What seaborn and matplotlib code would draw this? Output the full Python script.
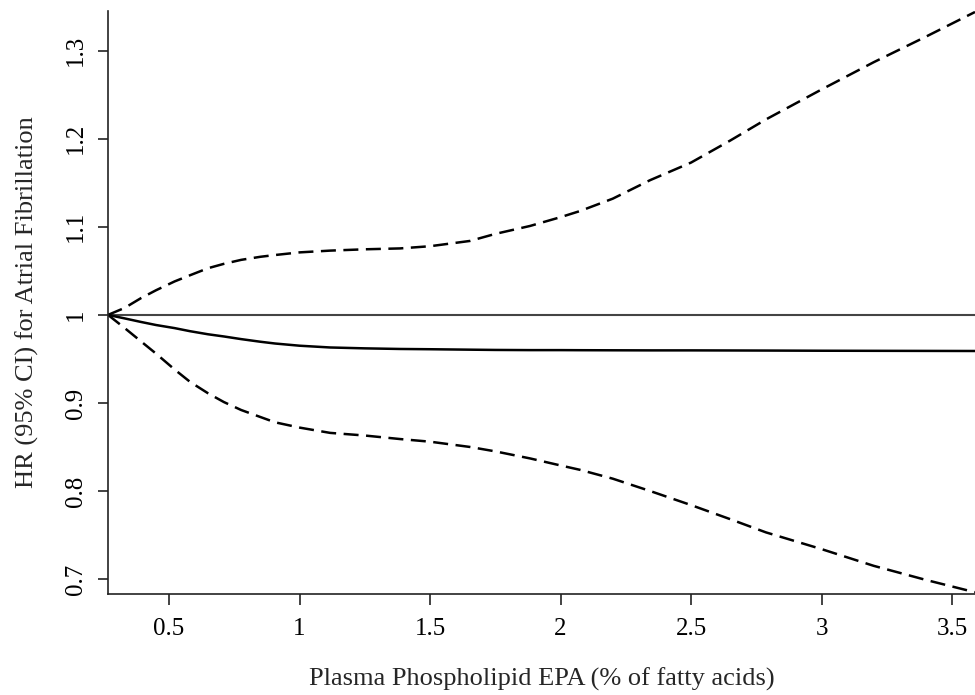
import numpy as np
import pandas as pd
import matplotlib
matplotlib.use("Agg")
import matplotlib.pyplot as plt
import seaborn as sns

# EPA level (% of fatty acids) and spline HR with 95% CI
epa = [0.266, 0.33, 0.392, 0.45, 0.521, 0.58, 0.649, 0.71, 0.776, 0.85, 0.906, 1.0,
       1.117, 1.25, 1.385, 1.5, 1.653, 1.75, 1.883, 2.0, 2.075, 2.2, 2.343, 2.5,
       2.65, 2.787, 3.0, 3.2, 3.4, 3.588]
hr = [1.0, 0.996, 0.992, 0.9885, 0.985, 0.9815, 0.978, 0.9755, 0.9725, 0.9695, 0.9675, 0.965,
      0.963, 0.962, 0.9613, 0.961, 0.9605, 0.9602, 0.96, 0.96, 0.9599, 0.9598, 0.9597, 0.9597,
      0.9596, 0.9595, 0.9593, 0.9592, 0.9591, 0.959]
ci_upper = [1.0, 1.008, 1.019, 1.028, 1.038, 1.045, 1.053, 1.058, 1.0625, 1.066, 1.068, 1.071,
            1.073, 1.0745, 1.0755, 1.078, 1.084, 1.092, 1.101, 1.111, 1.118, 1.132, 1.153, 1.173,
            1.198, 1.222, 1.256, 1.287, 1.316, 1.344]
ci_lower = [1.0, 0.985, 0.970, 0.956, 0.938, 0.924, 0.911, 0.901, 0.892, 0.884, 0.878, 0.872,
            0.866, 0.863, 0.859, 0.856, 0.850, 0.845, 0.837, 0.829, 0.824, 0.814, 0.800, 0.784,
            0.768, 0.753, 0.734, 0.715, 0.699, 0.685]

x_ticks = [0.5, 1, 1.5, 2, 2.5, 3, 3.5]
y_ticks = [0.7, 0.8, 0.9, 1.0, 1.1, 1.2, 1.3]
x_tick_labels = ["0.5", "1", "1.5", "2", "2.5", "3", "3.5"]
y_tick_labels = ["0.7", "0.8", "0.9", "1", "1.1", "1.2", "1.3"]

df = pd.DataFrame({"epa": epa, "hr": hr, "lo": ci_lower, "hi": ci_upper})

sns.set_style("ticks")
plt.rcParams["font.family"] = ["Liberation Serif", "DejaVu Serif"]

fig = plt.figure(figsize=(9.75, 6.95), dpi=100)
ax = fig.add_axes([0.1108, 0.1453, 0.8892, 0.8387])

# reference line at HR = 1
ax.axhline(1.0, color="#444444", lw=1.5, zorder=1)

dash = (0, (6, 3))
sns.lineplot(data=df, x="epa", y="hr", ax=ax, color="black", lw=1.8)
sns.lineplot(data=df, x="epa", y="hi", ax=ax, color="black", lw=1.8, linestyle=dash)
sns.lineplot(data=df, x="epa", y="lo", ax=ax, color="black", lw=1.8, linestyle=dash)

ax.set_xlim(0.266, 3.588)
ax.set_ylim(0.683, 1.345)
ax.set_xticks(x_ticks)
ax.set_xticklabels(x_tick_labels)
ax.set_yticks(y_ticks)
ax.set_yticklabels(y_tick_labels, rotation=90, va="center")

for side in ["top", "right"]:
    ax.spines[side].set_visible(False)
for side in ["left", "bottom"]:
    ax.spines[side].set_linewidth(1.2)
    ax.spines[side].set_color("#222222")

ax.tick_params(axis="x", length=8, width=1.2, pad=9, labelsize=18, colors="#222222", labelcolor="black")
ax.tick_params(axis="y", length=7, width=1.2, pad=8, labelsize=18, colors="#222222", labelcolor="black")

ax.set_xlabel("Plasma Phospholipid EPA (% of fatty acids)", fontsize=19, labelpad=20)
ax.set_ylabel("HR (95% CI) for Atrial Fibrillation", fontsize=19, labelpad=19)

fig.savefig("out.png", dpi=100)
